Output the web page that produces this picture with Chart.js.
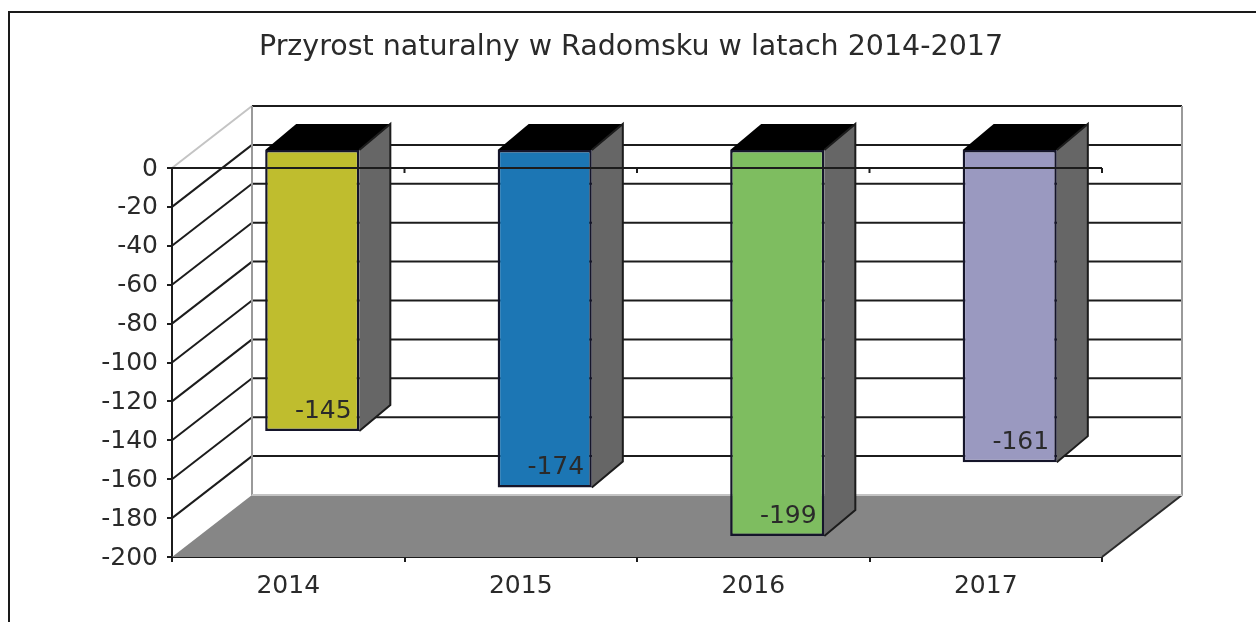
<!DOCTYPE html>
<html>
<head>
<meta charset="utf-8">
<script src="https://cdn.jsdelivr.net/npm/chart.js@4"></script>
<style>
    html, body { margin: 0; padding: 0; background: #fff; overflow: hidden; }
    #chart { display: block; }
</style>
</head>
<body>
<canvas id="chart" width="1256" height="622"></canvas>
<script>
const years = ['2014', '2015', '2016', '2017'];
const increase = [-145, -174, -199, -161];
const barColors = ['#BFBD2E', '#1C76B4', '#7EBD60', '#9A99C0'];
const titleText = 'Przyrost naturalny w Radomsku w latach 2014-2017';

const lineColor = '#1c1c1c';
const textColor = '#2a2a2a';
const fontFamily = '"DejaVu Sans", sans-serif';

// depth of the whole box and of the bars, the library has no 3d bars
const wallDx = 80, wallDy = 62;
const barShiftX = 24, barShiftY = 19;
const barDx = 31, barDy = 26;

const polygon = (ctx, points, fill) => {
    ctx.beginPath();
    points.forEach(([x, y], i) => i ? ctx.lineTo(x, y) : ctx.moveTo(x, y));
    ctx.closePath();
    ctx.fillStyle = fill;
    ctx.fill();
};

const line = (ctx, x1, y1, x2, y2, color, width) => {
    ctx.beginPath();
    ctx.moveTo(x1, y1);
    ctx.lineTo(x2, y2);
    ctx.strokeStyle = color;
    ctx.lineWidth = width;
    ctx.stroke();
};

const drawFrame = (chart) => {
    const ctx = chart.ctx;
    line(ctx, 8, 12, chart.width, 12, '#1a1a1a', 2);
    line(ctx, 9, 12, 9, chart.height, '#1a1a1a', 2);
};

const drawWalls = (chart) => {
    const ctx = chart.ctx;
    const { left, right, bottom } = chart.chartArea;
    const yScale = chart.scales.y;

    polygon(ctx, [[left, bottom], [left + wallDx, bottom - wallDy], [right + wallDx, bottom - wallDy], [right, bottom]], '#868686');
    line(ctx, right, bottom, right + wallDx, bottom - wallDy, '#2a2a2a', 2);

    yScale.ticks.forEach((tick) => {
        const y = yScale.getPixelForValue(tick.value);
        if (tick.value === -200) {
            return;
        }
        const side = tick.value === 0 ? '#c4c4c4' : lineColor;
        line(ctx, left, y, left + wallDx, y - wallDy, side, 2);
        line(ctx, left + wallDx, y - wallDy, right + wallDx, y - wallDy, lineColor, 2);
    });

    const wallTop = yScale.getPixelForValue(0) - wallDy;
    line(ctx, left + wallDx, wallTop, left + wallDx, bottom - wallDy, '#9a9a9a', 2);
    line(ctx, right + wallDx, wallTop, right + wallDx, bottom - wallDy, '#9a9a9a', 2);
    line(ctx, left + wallDx, bottom - wallDy, right + wallDx, bottom - wallDy, '#c4c4c4', 2);
};

const drawBarSides = (chart) => {
    const ctx = chart.ctx;
    chart.getDatasetMeta(0).data.forEach((bar) => {
        const l = bar.x - bar.width / 2, r = bar.x + bar.width / 2;
        const top = bar.base, bot = bar.y;
        polygon(ctx, [[l, top], [l + barDx, top - barDy], [r + barDx, top - barDy], [r, top]], '#000');
        polygon(ctx, [[r, top], [r + barDx, top - barDy], [r + barDx, bot - barDy], [r, bot]], '#666');
        ctx.beginPath();
        ctx.moveTo(r, top);
        ctx.lineTo(r + barDx, top - barDy);
        ctx.lineTo(r + barDx, bot - barDy);
        ctx.lineTo(r, bot);
        ctx.strokeStyle = lineColor;
        ctx.lineWidth = 2;
        ctx.stroke();
    });
};

const drawBarLabels = (chart) => {
    const ctx = chart.ctx;
    ctx.font = '25px ' + fontFamily;
    ctx.fillStyle = textColor;
    ctx.textAlign = 'center';
    ctx.textBaseline = 'middle';
    chart.getDatasetMeta(0).data.forEach((bar, i) => {
        ctx.fillText(String(increase[i]), bar.x + 11, bar.y - 20);
    });
};

const drawZeroAxis = (chart) => {
    const ctx = chart.ctx;
    const { left, right } = chart.chartArea;
    const y = chart.scales.y.getPixelForValue(0);
    line(ctx, left - 5, y, right, y, lineColor, 2);
    years.forEach((year, i) => {
        const x = chart.scales.x.getPixelForValue(i + 0.5);
        line(ctx, x, y, x, y + 5, lineColor, 2);
    });
};

const box3d = {
    id: 'box3d',
    beforeDraw(chart) {
        drawFrame(chart);
    },
    beforeDatasetsDraw(chart) {
        drawWalls(chart);
        chart.ctx.save();
        chart.ctx.translate(barShiftX, -barShiftY);
        drawBarSides(chart);
    },
    afterDatasetsDraw(chart) {
        drawBarLabels(chart);
        chart.ctx.restore();
        drawZeroAxis(chart);
    }
};

new Chart(document.getElementById('chart'), {
    type: 'bar',
    data: {
        labels: years,
        datasets: [{
            data: increase,
            backgroundColor: barColors,
            borderColor: '#15152a',
            borderWidth: 2.5,
            borderSkipped: false,
            barPercentage: 0.405,
            categoryPercentage: 1,
            clip: false
        }]
    },
    plugins: [box3d],
    options: {
        responsive: false,
        animation: false,
        layout: { padding: { left: 6, right: 0, top: 0, bottom: 0 } },
        plugins: {
            legend: { display: false },
            tooltip: { enabled: false },
            title: {
                display: true,
                text: titleText,
                color: textColor,
                font: { family: fontFamily, size: 28.5, weight: 'normal' },
                padding: { top: 30, bottom: 103.8 }
            }
        },
        scales: {
            x: {
                position: 'bottom',
                afterFit: (axis) => { axis.height = 65; },
                grid: { drawOnChartArea: false, color: lineColor, tickLength: 5, lineWidth: 2 },
                border: { color: lineColor, width: 2 },
                ticks: { color: textColor, font: { family: fontFamily, size: 25 }, padding: 9, maxRotation: 0 }
            },
            y: {
                min: -200,
                max: 0,
                afterFit: (axis) => { axis.width = 166; },
                grid: { drawOnChartArea: false, color: lineColor, tickLength: 5, lineWidth: 2 },
                border: { color: lineColor, width: 2 },
                ticks: { stepSize: 20, color: textColor, font: { family: fontFamily, size: 25 }, padding: 9, labelOffset: 1 }
            },
            // empty axis, only keeps the space right of the box
            rightSpace: {
                axis: 'y',
                position: 'right',
                afterFit: (axis) => { axis.width = 154; },
                grid: { display: false },
                border: { display: false },
                ticks: { display: false }
            }
        }
    }
});
</script>
</body>
</html>
